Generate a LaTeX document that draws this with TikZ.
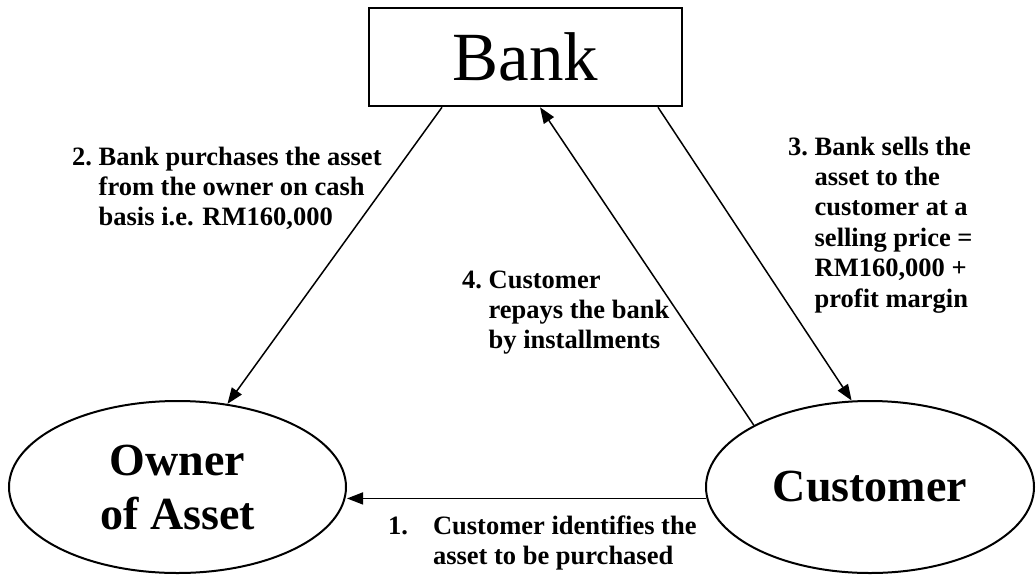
\documentclass[tikz,border=0pt]{standalone}
\usepackage{fontspec}
\setmainfont{Liberation Serif}
\usetikzlibrary{shapes.geometric,arrows.meta,calc}
\begin{document}
\begin{tikzpicture}[x=1pt,y=-1pt,
  bankbox/.style={draw,line width=2.5pt,minimum width=313pt,minimum height=98pt,inner sep=0pt,font=\fontsize{69}{80}\selectfont},
  party/.style={draw,ellipse,line width=2pt,inner sep=0pt,minimum height=172pt,align=center,font=\fontsize{46}{54}\selectfont\bfseries},
  arr/.style={line width=1.5pt,-{Triangle[length=16pt,width=12pt]}},
  lbl/.style={anchor=base west,inner sep=0pt,font=\fontsize{26.5}{30.4}\selectfont\bfseries}]
\useasboundingbox (0,0) rectangle (1036,574);
\node[bankbox] (bank) at (525.5,57) {Bank};
\node[party,minimum width=337pt] (own) at (177.5,487) {Owner\\of Asset};
\node[party,minimum width=328pt] (cust) at (870,487) {Customer};
\coordinate (b2) at ([xshift=-83.5pt]bank.south);
\coordinate (b4) at ([xshift=14.5pt]bank.south);
\coordinate (b3) at ([xshift=132.5pt]bank.south);
\draw[arr] (b2) -- (own.59);
\draw[arr] (cust.152) -- (b4);
\draw[arr] (b3) -- (cust.102.5);
\draw[arr] (cust.184) -- (cust.184 -| own.east);
\node[lbl] (l2) at (72,165) {\begin{tabular}[t]{@{}l@{\hspace{6.6pt}}l@{}}2. & Bank purchases the asset\\ & from the owner on cash\\ & basis i.e. RM160,000\end{tabular}};
\node[lbl] (l3) at (788,155) {\begin{tabular}[t]{@{}l@{\hspace{6.6pt}}l@{}}3. & Bank sells the\\ & asset to the\\ & customer at a\\ & selling price =\\ & RM160,000 +\\ & profit margin\end{tabular}};
\node[lbl] (l4) at (462,288) {\begin{tabular}[t]{@{}l@{\hspace{6.6pt}}l@{}}4. & Customer\\ & repays the bank\\ & by installments\end{tabular}};
\node[lbl] (l1) at (388,534) {\begin{tabular}[t]{@{}l@{\hspace{25pt}}l@{}}1. & Customer identifies the\\ & asset to be purchased\end{tabular}};
\end{tikzpicture}
\end{document}
